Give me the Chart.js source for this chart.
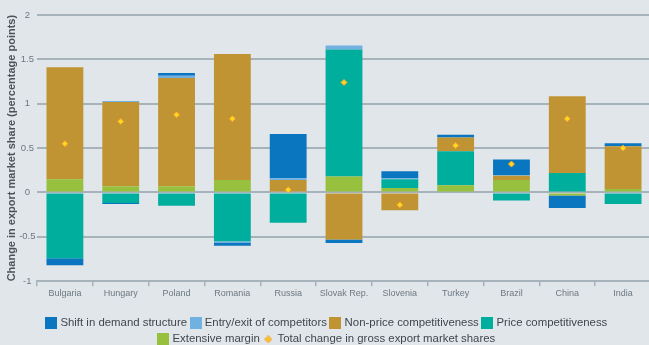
<!DOCTYPE html>
<html>
<head>
<meta charset="utf-8">
<script src="https://cdn.jsdelivr.net/npm/chart.js@4.4.1/dist/chart.umd.min.js"></script>
<style>
  html, body { margin: 0; padding: 0; background: #e1e6ea; overflow: hidden; }
  #wrap { width: 649px; height: 345px; overflow: hidden; }
</style>
</head>
<body>
<div id="wrap"><canvas id="myChart" width="656" height="355"></canvas></div>
<script>
// countries
var categories = ['Bulgaria', 'Hungary', 'Poland', 'Romania', 'Russia', 'Slovak Rep.', 'Slovenia', 'Turkey', 'Brazil', 'China', 'India'];

// contributions, percentage points
var extensiveMargin = [0.15, 0.07, 0.07, 0.14, 0.01, 0.18, 0.05, 0.08, 0.14, -0.035, 0.04];
var priceComp = [-0.74, -0.12, -0.15, -0.55, -0.34, 1.43, 0.10, 0.385, -0.09, 0.22, -0.13];
var nonPriceComp = [1.26, 0.95, 1.22, 1.42, 0.13, -0.53, -0.20, 0.155, 0.047, 0.865, 0.48];
var entryExit = [0, 0.01, 0.025, -0.015, 0.02, 0.045, 0.01, 0, 0.01, 0, 0];
var demandShift = [-0.08, -0.01, 0.03, -0.035, 0.50, -0.04, 0.08, 0.03, 0.175, -0.14, 0.035];
var totalChange = [0.55, 0.80, 0.875, 0.83, 0.03, 1.24, -0.14, 0.53, 0.32, 0.83, 0.50];

var yTicks = [-1, -0.5, 0, 0.5, 1, 1.5, 2];

var legendOrder = [
    'Shift in demand structure',
    'Entry/exit of competitors',
    'Non-price competitiveness',
    'Price competitiveness',
    'Extensive margin',
    'Total change in gross export market shares'
];

var sans = "'Liberation Sans', Arial, sans-serif";
var gridColor = '#a7b3bb';

// little canvases used as legend markers
function square(color) {
    var c = document.createElement('canvas');
    c.width = 12; c.height = 12;
    var g = c.getContext('2d');
    g.fillStyle = color;
    g.fillRect(0, 0, 12, 12);
    return c;
}
function diamond() {
    var c = document.createElement('canvas');
    c.width = 8; c.height = 8;
    var g = c.getContext('2d');
    g.beginPath();
    g.moveTo(4, 0.5); g.lineTo(7.5, 4); g.lineTo(4, 7.5); g.lineTo(0.5, 4);
    g.closePath();
    g.fillStyle = '#fbc22a';
    g.fill();
    g.strokeStyle = '#f0a03c';
    g.lineWidth = 1;
    g.stroke();
    return c;
}

// stacking order from the zero line outwards
var datasets = [
    { label: 'Extensive margin', data: extensiveMargin, backgroundColor: '#96c03d', stack: 'bars' },
    { label: 'Price competitiveness', data: priceComp, backgroundColor: '#00ae9e', stack: 'bars' },
    { label: 'Non-price competitiveness', data: nonPriceComp, backgroundColor: '#c09432', stack: 'bars' },
    { label: 'Entry/exit of competitors', data: entryExit, backgroundColor: '#70b1e1', stack: 'bars' },
    { label: 'Shift in demand structure', data: demandShift, backgroundColor: '#0b76c0', stack: 'bars' },
    {
        type: 'line',
        label: 'Total change in gross export market shares',
        data: totalChange,
        stack: 'total',
        showLine: false,
        order: -1,
        pointStyle: 'rectRot',
        pointRadius: 3,
        pointBackgroundColor: '#ffd91a',
        pointBorderColor: '#f4a236',
        pointBorderWidth: 1
    }
];

var swatches = datasets.map(function (d) {
    return d.type === 'line' ? diamond() : square(d.backgroundColor);
});

var ctx = document.getElementById('myChart').getContext('2d');
var myChart = new Chart(ctx, {
    type: 'bar',
    data: { labels: categories, datasets: datasets },
    options: {
        responsive: false,
        animation: false,
        layout: { padding: { top: 15, right: 1, left: 0, bottom: 0 } },
        datasets: {
            bar: { categoryPercentage: 1, barPercentage: 0.66 }
        },
        plugins: {
            tooltip: { enabled: false },
            legend: {
                position: 'bottom',
                labels: {
                    usePointStyle: true,
                    pointStyleWidth: 7,
                    boxHeight: 12,
                    padding: 5,
                    color: '#3e474d',
                    font: { family: sans, size: 11.4 },
                    generateLabels: function (chart) {
                        return legendOrder.map(function (name) {
                            var i = chart.data.datasets.findIndex(function (d) { return d.label === name; });
                            return {
                                text: name,
                                datasetIndex: i,
                                pointStyle: swatches[i],
                                fillStyle: 'transparent',
                                strokeStyle: 'transparent',
                                lineWidth: 0,
                                hidden: false,
                                fontColor: '#3e474d'
                            };
                        });
                    }
                }
            }
        },
        scales: {
            x: {
                stacked: true,
                afterFit: function (scale) { scale.height = 31; },
                grid: {
                    offset: true,
                    drawOnChartArea: false,
                    drawTicks: true,
                    tickLength: 5,
                    color: gridColor,
                    lineWidth: 1.5
                },
                border: { display: true, color: gridColor, width: 2 },
                ticks: {
                    padding: 2,
                    color: '#6c7880',
                    font: { family: sans, size: 9 },
                    maxRotation: 0,
                    autoSkip: false
                }
            },
            y: {
                stacked: true,
                min: -1,
                max: 2,
                afterFit: function (scale) { scale.width = 37; },
                afterBuildTicks: function (scale) {
                    scale.ticks = yTicks.map(function (v) { return { value: v }; });
                },
                grid: {
                    drawTicks: false,
                    color: gridColor,
                    lineWidth: 2
                },
                border: { display: false },
                ticks: {
                    padding: 1.5,
                    crossAlign: 'center',
                    color: '#6c7880',
                    font: { family: sans, size: 9.5 },
                    callback: function (v) { return String(v); }
                },
                title: {
                    display: true,
                    text: 'Change in export market share (percentage points)',
                    color: '#4a5358',
                    padding: { top: 5, bottom: 0 },
                    font: { family: sans, size: 11, weight: 'bold' }
                }
            }
        }
    }
});
</script>
</body>
</html>
